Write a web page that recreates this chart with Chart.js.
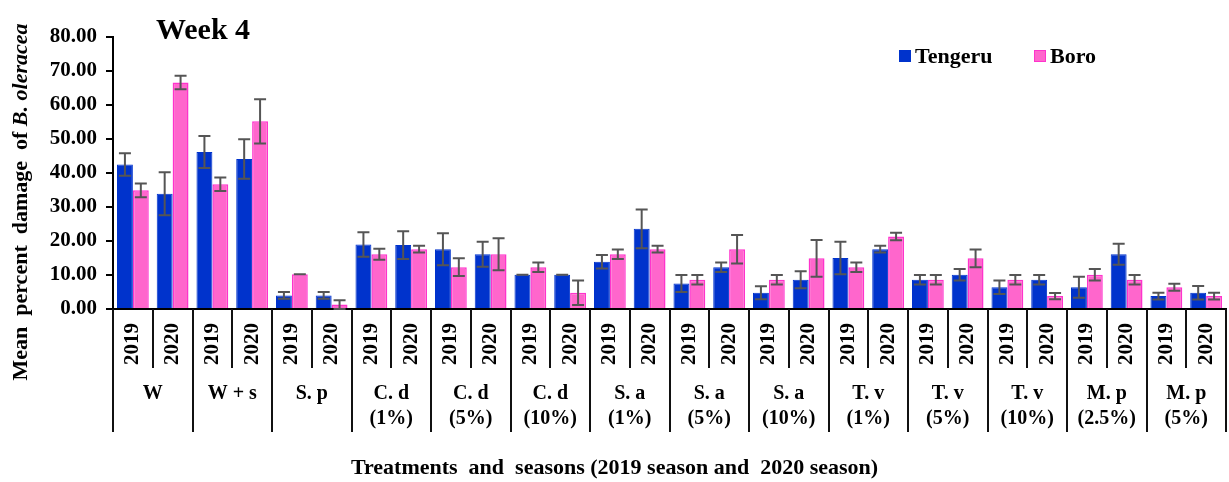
<!DOCTYPE html>
<html>
<head>
<meta charset="utf-8">
<title>Week 4</title>
<script src="https://cdn.jsdelivr.net/npm/chart.js@4/dist/chart.umd.min.js"></script>
<style>
  html, body { margin: 0; padding: 0; background: #fff; }
  #wrap { width: 1229px; height: 482px; position: relative; }
</style>
</head>
<body>
<div id="wrap"><canvas id="week4"></canvas></div>
<script>
/* global Chart */

// treatments (one or two label lines each) and the two seasons
const treatments = [
  ['W'], ['W + s'], ['S. p'],
  ['C. d', '(1%)'], ['C. d', '(5%)'], ['C. d', '(10%)'],
  ['S. a', '(1%)'], ['S. a', '(5%)'], ['S. a', '(10%)'],
  ['T. v', '(1%)'], ['T. v', '(5%)'], ['T. v', '(10%)'],
  ['M. p', '(2.5%)'], ['M. p', '(5%)'],
];
const seasons = ['2019', '2020'];

// mean percent damage, ordered treatment by treatment, 2019 then 2020
const tengeru = [42.5, 33.9, 46.2, 44.1, 4.0, 4.0, 19.0, 18.8, 17.6, 16.1, 10.1, 10.1, 13.9, 23.6,
  7.5, 12.3, 4.8, 8.6, 15.0, 17.6, 8.6, 10.1, 6.4, 8.6, 6.4, 16.1, 3.8, 4.8];
const tengeruErr = [3.3, 6.3, 4.7, 5.8, 1.0, 1.0, 3.6, 4.1, 4.7, 3.7, 0, 0, 2.0, 5.7,
  2.5, 1.4, 1.9, 2.5, 4.8, 1.0, 1.4, 1.7, 2.0, 1.4, 3.1, 3.1, 1.0, 2.0];
const boro = [34.9, 66.6, 36.7, 55.2, 10.2, 1.3, 16.1, 17.6, 12.3, 16.1, 12.3, 4.8, 16.1, 17.6,
  8.6, 17.6, 8.6, 14.9, 12.3, 21.3, 8.6, 14.9, 8.6, 3.8, 10.1, 8.6, 6.4, 3.8];
const boroErr = [2.0, 2.0, 2.0, 6.5, 0, 1.3, 1.6, 1.0, 2.6, 4.7, 1.4, 3.6, 1.4, 1.0,
  1.4, 4.2, 1.4, 5.4, 1.4, 1.1, 1.4, 2.6, 1.4, 0.9, 1.7, 1.4, 1.0, 1.0];

const yMin = 0;
const yMax = 80;
const yStep = 10;

const labels = [];
treatments.forEach(() => seasons.forEach((s) => labels.push(s)));

const SERIF = "'Liberation Serif', 'Times New Roman', serif";

// error bars on top of every bar
const errorBars = {
  id: 'errorBars',
  afterDatasetsDraw(chart) {
    const { ctx } = chart;
    const y = chart.scales.y;
    ctx.save();
    ctx.strokeStyle = '#555';
    ctx.lineWidth = 2;
    chart.data.datasets.forEach((ds, di) => {
      chart.getDatasetMeta(di).data.forEach((bar, i) => {
        const v = ds.data[i];
        const e = ds.errors[i];
        const top = y.getPixelForValue(v + e);
        const bot = y.getPixelForValue(Math.max(v - e, 0));
        ctx.beginPath();
        ctx.moveTo(bar.x, top);
        ctx.lineTo(bar.x, bot);
        ctx.moveTo(bar.x - 6, top);
        ctx.lineTo(bar.x + 6, top);
        ctx.moveTo(bar.x - 6, bot);
        ctx.lineTo(bar.x + 6, bot);
        ctx.stroke();
      });
    });
    ctx.restore();
  },
};

// table under the x axis, titles and legend
const decorations = {
  id: 'decorations',
  afterDraw(chart) {
    const { ctx, chartArea } = chart;
    const x = chart.scales.x;
    const base = chartArea.bottom;
    ctx.save();

    // cell borders: short lines between seasons, long ones between treatments
    ctx.strokeStyle = '#111';
    ctx.lineWidth = 2;
    for (let i = 0; i <= labels.length; i += 1) {
      const px = Math.round(x.getPixelForValue(i - 0.5));
      ctx.beginPath();
      ctx.moveTo(px, base);
      ctx.lineTo(px, i % 2 === 0 ? base + 123 : base + 59);
      ctx.stroke();
    }

    // treatment names
    ctx.fillStyle = '#000';
    ctx.textAlign = 'center';
    ctx.textBaseline = 'middle';
    ctx.font = `bold 20px ${SERIF}`;
    treatments.forEach((lines, g) => {
      const cx = (x.getPixelForValue(g * 2) + x.getPixelForValue(g * 2 + 1)) / 2;
      lines.forEach((t, k) => ctx.fillText(t, cx, base + 85 + k * 25));
    });

    // x axis title
    ctx.font = `bold 22px ${SERIF}`;
    ctx.fillText('Treatments  and  seasons (2019 season and  2020 season)', chart.width / 2, 468);

    // y axis title, the species name in italics
    const parts = [
      ['Mean  percent  damage  of ', `bold 22px ${SERIF}`],
      ['B. oleracea', `italic bold 22px ${SERIF}`],
    ];
    let total = 0;
    parts.forEach(([t, f]) => { ctx.font = f; total += ctx.measureText(t).width; });
    ctx.translate(21, 202);
    ctx.rotate(-Math.PI / 2);
    ctx.textAlign = 'left';
    let pos = -total / 2;
    parts.forEach(([t, f]) => {
      ctx.font = f;
      ctx.fillText(t, pos, 0);
      pos += ctx.measureText(t).width;
    });
    ctx.setTransform(1, 0, 0, 1, 0, 0);

    // chart title
    ctx.textAlign = 'center';
    ctx.font = `bold 30px ${SERIF}`;
    ctx.fillText('Week 4', chartArea.left + 90, 31);

    // legend
    ctx.textAlign = 'left';
    ctx.font = `bold 22px ${SERIF}`;
    let lx = 899;
    chart.data.datasets.forEach((ds) => {
      ctx.fillStyle = ds.backgroundColor;
      ctx.fillRect(lx, 50, 12, 12);
      ctx.strokeStyle = ds.borderColor;
      ctx.lineWidth = 1;
      ctx.strokeRect(lx + 0.5, 50.5, 11, 11);
      ctx.fillStyle = '#000';
      ctx.fillText(ds.label, lx + 16, 57);
      lx += 135;
    });
    ctx.restore();
  },
};

new Chart(document.getElementById('week4'), {
  type: 'bar',
  data: {
    labels,
    datasets: [
      {
        label: 'Tengeru',
        data: tengeru,
        errors: tengeruErr,
        backgroundColor: '#0033cc',
        borderColor: '#0033cc',
        borderWidth: 1,
      },
      {
        label: 'Boro',
        data: boro,
        errors: boroErr,
        backgroundColor: '#ff66cc',
        borderColor: '#ff33cc',
        borderWidth: 1.5,
      },
    ],
  },
  options: {
    responsive: true,
    maintainAspectRatio: false,
    animation: false,
    layout: { padding: { top: 37, right: 3, left: 0, bottom: 0 } },
    datasets: { bar: { categoryPercentage: 0.8, barPercentage: 1.0 } },
    plugins: {
      legend: { display: false },
      tooltip: { enabled: false },
    },
    scales: {
      x: {
        grid: { display: false, drawTicks: false },
        border: { display: true, color: '#000', width: 2 },
        ticks: {
          color: '#000',
          font: { family: SERIF, size: 21, weight: 'bold' },
          minRotation: 90,
          maxRotation: 90,
          autoSkip: false,
          padding: 14,
        },
        afterFit(scale) {
          scale.height = 173;
          // rotated year labels do not need room at the ends
          scale.paddingLeft = 0;
          scale.paddingRight = 0;
        },
      },
      y: {
        min: yMin,
        max: yMax,
        grid: { drawOnChartArea: false, tickLength: 7, color: '#000', lineWidth: 2 },
        border: { display: true, color: '#000', width: 2 },
        ticks: {
          stepSize: yStep,
          color: '#000',
          padding: 9,
          font: { family: SERIF, size: 21, weight: 'bold' },
          callback: (v) => v.toFixed(2),
        },
        afterFit(scale) { scale.width = 113; },
      },
    },
  },
  plugins: [errorBars, decorations],
});
</script>
</body>
</html>
